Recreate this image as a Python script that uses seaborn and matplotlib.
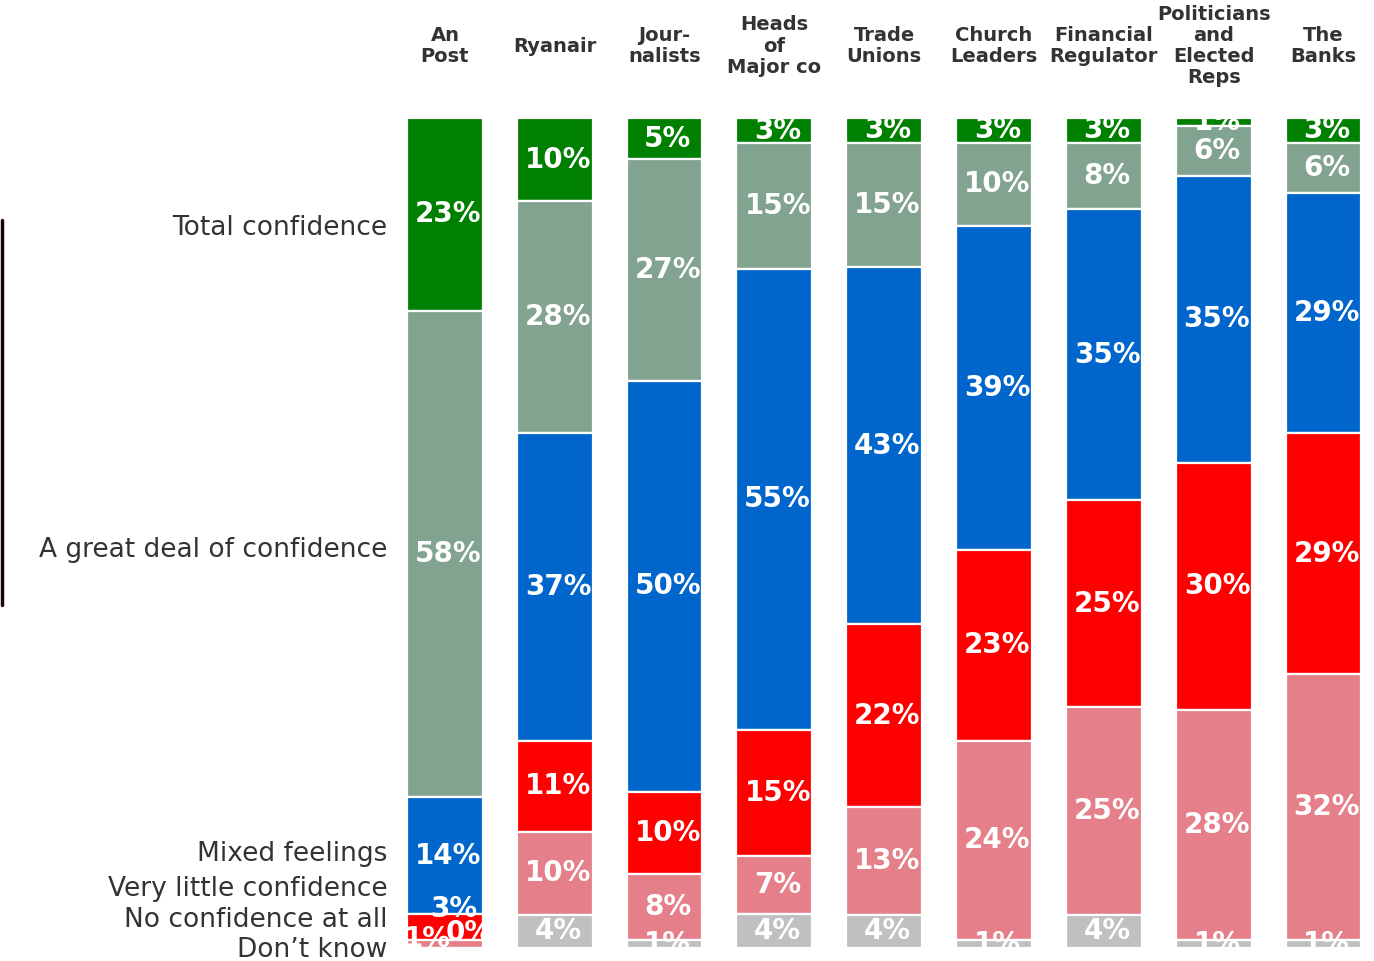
import matplotlib
matplotlib.use('Agg')
import matplotlib.pyplot as plt
from matplotlib.lines import Line2D
import numpy as np
import pandas as pd
import seaborn as sns

sns.set_style("white")
plt.rcParams['font.family'] = ['DejaVu Sans']

organisations = ["An\nPost", "Ryanair", "Jour-\nnalists", "Heads\nof\nMajor co", "Trade\nUnions",
                 "Church\nLeaders", "Financial\nRegulator", "Politicians\nand\nElected\nReps", "The\nBanks"]
levels = ["Total confidence", "A great deal of confidence", "Mixed feelings",
          "Very little confidence", "No confidence at all", "Don\u2019t know"]

total_conf = [23, 10, 5, 3, 3, 3, 3, 1, 3]
great_deal = [58, 28, 27, 15, 15, 10, 8, 6, 6]
mixed = [14, 37, 50, 55, 43, 39, 35, 35, 29]
very_little = [3, 11, 10, 15, 22, 23, 25, 30, 29]
no_conf = [1, 10, 8, 7, 13, 24, 25, 28, 32]
dont_know = [0, 4, 1, 4, 4, 1, 4, 1, 1]

colors = ["#008000", "#82A390", "#0066CC", "#FF0000", "#E5808A", "#C0C0C0"]
# where the level names sit on the left (in % of bar height)
label_pos = [12.9, 51.7, 88.3, 92.5, 96.3, 99.9]
# small nudges (x in bar units, y in %) for crowded labels in the An Post bar
nudges = {(0, 3): (0.05, -2.2), (0, 4): (-0.19, -0.6), (0, 5): (0.19, -1.8)}

df = pd.DataFrame({"org": organisations})
for name, vals in zip(levels, [total_conf, great_deal, mixed, very_little, no_conf, dont_know]):
    df[name] = vals
# bars fill the full height, rounding totals of 99/101 are rescaled
shares = df[levels].div(df[levels].sum(axis=1), axis=0) * 100

fig = plt.figure(figsize=(13.74, 9.61), dpi=100)
ax = fig.add_axes([390 / 1374, 1 - 948 / 961, 1 - 390 / 1374, 830 / 961])

bottom = np.zeros(len(df))
for j, (name, color) in enumerate(zip(levels, colors)):
    plot_df = pd.DataFrame({"org": df["org"], "share": shares[name]})
    vals = plot_df["share"].to_numpy(dtype=float)
    sns.barplot(data=plot_df, x="org", y="share", bottom=bottom, color=color, width=0.69,
                errorbar=None, edgecolor="white", linewidth=1.6, saturation=1, ax=ax)
    for i, v in enumerate(vals):
        dx, dy = nudges.get((i, j), (0, 0))
        ax.text(i + 0.03 + dx, bottom[i] + v / 2 + dy, f"{df[name][i]}%", ha="center",
                va="center", color="white", fontsize=20, fontweight="bold")
    bottom += vals

ax.set_xlim(-0.5, 8.46)
ax.set_ylim(100, 0)
ax.set_xlabel("")
ax.set_ylabel("")
ax.set_xticks([])
ax.set_yticks(label_pos)
ax.set_yticklabels(levels, fontsize=19, color="#333333")
ax.tick_params(axis="y", length=0, pad=2)
for s in ax.spines.values():
    s.set_visible(False)

for i, org in enumerate(organisations):
    ax.annotate(org, xy=(i, 1.0), xycoords=("data", "axes fraction"),
                xytext=(0, (118 - 46) * 0.72), textcoords="offset points",
                ha="center", va="center", fontsize=14, fontweight="bold",
                color="#333333", linespacing=1.15)

fig.add_artist(Line2D([0.0015, 0.0015], [1 - 220 / 961, 1 - 605 / 961],
                      color="#1a0505", linewidth=2.5))

fig.savefig("out.png", dpi=100)
plt.close(fig)
